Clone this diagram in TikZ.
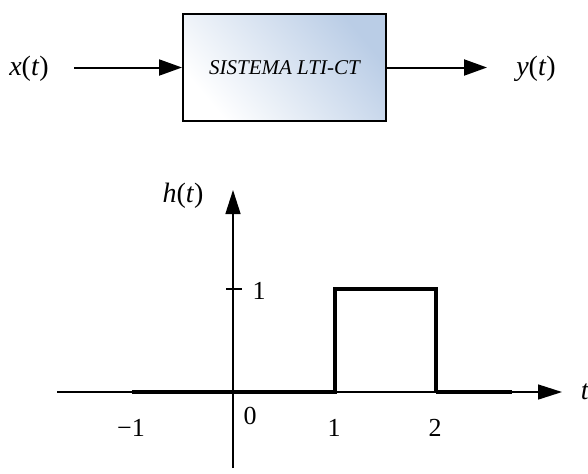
\documentclass[tikz,border=0pt]{standalone}
\usepackage{fontspec}
\setmainfont{Liberation Serif}
\usetikzlibrary{arrows.meta}
\definecolor{boxblue}{HTML}{BACDE6}

\begin{document}
\begin{tikzpicture}[x=0.5pt,y=-0.5pt,
  sysbox/.style={rectangle,draw,line width=1pt,minimum width=101.5pt,minimum height=53.5pt,
    bottom color=white,top color=boxblue,shading angle=-50,font=\fontsize{10.5}{12}\selectfont\itshape},
  lbl/.style={font=\fontsize{14}{16}\selectfont},
  num/.style={font=\fontsize{13}{15}\selectfont},
  flow/.style={line width=1pt,-{Triangle[length=11.5pt,width=8pt]}},
  axis/.style={line width=0.75pt,-{Triangle[length=12pt,width=7.5pt]}},
  signal/.style={line width=2pt,line cap=butt,line join=miter}]
\useasboundingbox (0,0) rectangle (588,473);

% block diagram
\node [sysbox] (sys) at (284.5,67.5) {SISTEMA LTI-CT};
\node [lbl] (xin) at (29,69) {\textit{x}(\textit{t})};
\node [lbl] (yout) at (536,69) {\textit{y}(\textit{t})};
\coordinate (in) at (74,67.5);
\coordinate (out) at (487,67.5);
\draw [flow] (in) -- (sys.west);
\draw [flow] (sys.east) -- (out);

% axes
\coordinate (xstart) at (57,392);
\coordinate (xend) at (562,392);
\coordinate (ystart) at (233,468);
\coordinate (yend) at (233,190);
\draw [axis] (xstart) -- (xend);
\draw [axis] (ystart) -- (yend);
\node [lbl] (ht) at (183,196) {\textit{h}(\textit{t})};
\node [lbl] (tlab) at (585,392) {\textit{t}};

% tick at 1
\coordinate (tickl) at (226,289);
\coordinate (tickr) at (242,289);
\draw [line width=0.75pt] (tickl) -- (tickr);
\node [num] (one) at (259,291) {1};

% labels on t axis
\node [num] (m1) at (131,428) {\textminus 1};
\node [num] (zero) at (250,416) {0};
\node [num] (p1) at (334,428) {1};
\node [num] (p2) at (435,428) {2};

% impulse response
\coordinate (s0) at (132,392);
\coordinate (s1) at (335,392);
\coordinate (s2) at (335,289);
\coordinate (s3) at (436,289);
\coordinate (s4) at (436,392);
\coordinate (s5) at (512,392);
\draw [signal] (s0) -- (s1) -- (s2) -- (s3) -- (s4);
\draw [signal] (s4) -- (s5);
\end{tikzpicture}
\end{document}
